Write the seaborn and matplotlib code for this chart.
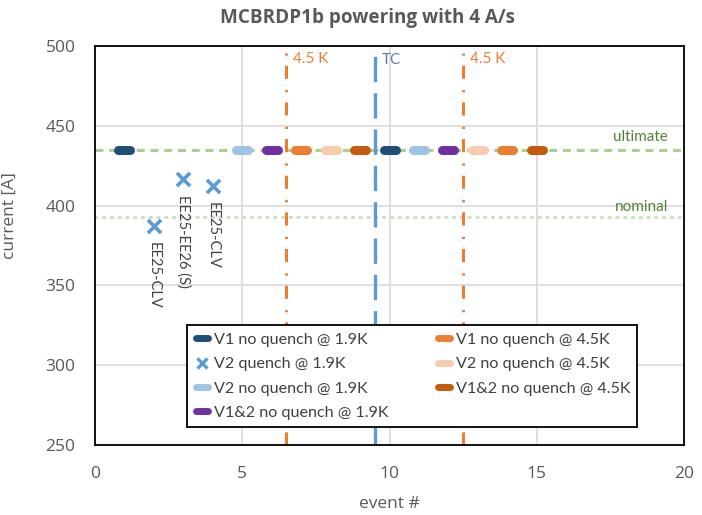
import matplotlib
matplotlib.use("Agg")
import matplotlib.pyplot as plt
from matplotlib.lines import Line2D
from matplotlib.markers import CapStyle
import seaborn as sns

# Powering events (event number, current in A)
v1_19_x = [1, 10]
v1_19_y = [435, 435]
v2_quench_x = [2, 3, 4]
v2_quench_y = [387, 416.5, 412]
v2_quench_labels = ["EE25-CLV", "EE25-EE26 (S)", "EE25-CLV"]
v2_19_x = [5, 11]
v2_19_y = [435, 435]
v12_19_x = [6, 12]
v12_19_y = [435, 435]
v1_45_x = [7, 14]
v1_45_y = [435, 435]
v2_45_x = [8, 13]
v2_45_y = [435, 435]
v12_45_x = [9, 15]
v12_45_y = [435, 435]

ultimate_current = 435
nominal_current = 393
temp_change_events = [6.5, 12.5]
tc_event = 9.5

series_names = [
    "V1 no quench @ 1.9K", "V2 quench @ 1.9K", "V2 no quench @ 1.9K",
    "V1&2 no quench @ 1.9K", "V1 no quench @ 4.5K", "V2 no quench @ 4.5K",
    "V1&2 no quench @ 4.5K",
]

sns.set_theme(style="white")
plt.rcParams["font.family"] = ["Open Sans", "DejaVu Sans"]
LATO = ["Lato", "DejaVu Sans"]

GRAY = "#595959"
fig = plt.figure(figsize=(7.02, 5.15), dpi=100)
ax = fig.add_axes([0.1353, 0.1359, 0.8391, 0.7748])

ax.set_xlim(0, 20)
ax.set_ylim(250, 500)
ax.set_xticks([0, 5, 10, 15, 20])
ax.set_yticks([250, 300, 350, 400, 450, 500])
ax.grid(True, color="#D9D9D9", linewidth=1.2)
ax.set_axisbelow(True)
for sp in ax.spines.values():
    sp.set_color("black")
    sp.set_linewidth(1.3)
ax.tick_params(axis="both", length=0, labelsize=12.5, labelcolor=GRAY)
ax.tick_params(axis="y", pad=14)
ax.tick_params(axis="x", pad=15)

# reference current levels
ax.axhline(ultimate_current, color="#A9D18E", lw=2.2, linestyle=(0, (2.6, 1.9)), zorder=2)
ax.axhline(nominal_current, color="#C5E0B4", lw=2.0, linestyle=(0, (0.6, 2.2)),
           dash_capstyle="round", zorder=2)

# temperature change / training cycle markers
for ev in temp_change_events:
    ax.axvline(ev, color="#ED7D31", lw=2.2, linestyle=(0, (4.3, 3.3, 0.7, 3.7)), zorder=2)
ax.axvline(tc_event, color="#5B9BD5", lw=2.4, linestyle=(0, (7.6, 3.3)), zorder=2)

dash_kw = dict(marker="_", s=80, linewidth=6.5, capstyle="round", zorder=4, legend=False)

series = [
    (v1_19_x, v1_19_y, "#1F4E79"),
    (v2_19_x, v2_19_y, "#9DC3E6"),
    (v12_19_x, v12_19_y, "#7030A0"),
    (v1_45_x, v1_45_y, "#ED7D31"),
    (v2_45_x, v2_45_y, "#F8CBAD"),
    (v12_45_x, v12_45_y, "#C55A11"),
]
for xs, ys, c in series:
    sns.scatterplot(x=xs, y=ys, color=c, ax=ax, **dash_kw)

sns.scatterplot(x=v2_quench_x, y=v2_quench_y, marker="x", s=90, linewidth=2.6,
                color="#5B9BD5", ax=ax, zorder=4, legend=False)

for x, y, lab in zip(v2_quench_x, v2_quench_y, v2_quench_labels):
    ax.annotate(lab, (x, y), xytext=(0, -11), textcoords="offset points",
                rotation=270, ha="center", va="top", fontsize=10.5,
                color="#404040", family=LATO)

# text annotations
ax.text(6.72, 492, "4.5 K", color="#ED7D31", fontsize=11, va="center", family=LATO)
ax.text(12.72, 492, "4.5 K", color="#ED7D31", fontsize=11, va="center", family=LATO)
ax.text(9.75, 491, "TC", color="#5B80A8", fontsize=11, va="center", family=LATO)
ax.text(19.45, 443, "ultimate", color="#548235", fontsize=11, ha="right", va="center",
        family=LATO)
ax.text(19.45, 399, "nominal", color="#548235", fontsize=11, ha="right", va="center",
        family=LATO)

# legend
leg_colors = ["#1F4E79", "#5B9BD5", "#9DC3E6", "#7030A0", "#ED7D31", "#F8CBAD", "#C55A11"]
handles = []
for name, c in zip(series_names, leg_colors):
    if name == "V2 quench @ 1.9K":
        h = Line2D([], [], marker="x", color=c, linestyle="", markersize=7, mew=2.4)
    else:
        h = Line2D([], [], marker="_", color=c, linestyle="", markersize=8, mew=5)
        h._marker._capstyle = CapStyle.round
    handles.append(h)
leg = ax.legend(handles, series_names, ncol=2, loc="lower left",
                bbox_to_anchor=(0.156, 0.045), borderaxespad=0, frameon=True,
                fancybox=False, edgecolor="black", framealpha=1, handlelength=1.0,
                handletextpad=0.25, columnspacing=2.9, labelspacing=0.62,
                borderpad=0.45, prop={"family": LATO, "size": 11.6})
leg.get_frame().set_linewidth(1.3)
for t in leg.get_texts():
    t.set_color("#404040")

ax.set_xlabel("event #", fontsize=12.5, color=GRAY)
ax.set_ylabel("current [A]", fontsize=12.5, color=GRAY)
ax.xaxis.set_label_coords(0.5, -0.128)
ax.yaxis.set_label_coords(-0.131, 0.576)
fig.text(368 / 702, 1 - 18 / 515, "MCBRDP1b powering with 4 A/s", fontsize=13.6,
         fontweight="bold", color=GRAY, ha="center", va="center")

fig.savefig("out.png", dpi=100)
